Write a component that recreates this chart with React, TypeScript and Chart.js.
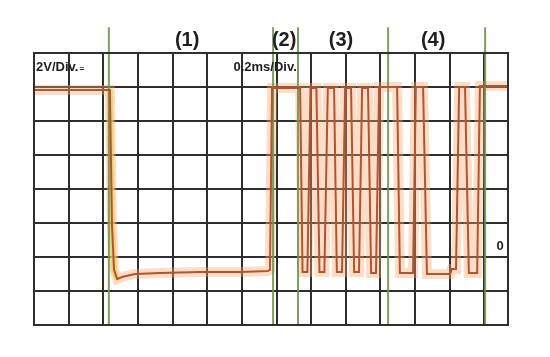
import React, { useEffect, useRef } from "react";
import { Chart, registerables } from "chart.js";

Chart.register(...registerables);

// Time axis in divisions (0.2 ms/div), level axis in divisions (2 V/div)
const traceTime = [
  0, 2.19, 2.25, 2.31, 2.4, 2.54, 2.91, 3.64, 4.79, 5.95, 6.75, 6.81,
  6.87, 7.68, 7.75, 7.89, 7.98, 8.15, 8.24, 8.38, 8.48, 8.66, 8.74, 8.89,
  8.98, 9.15, 9.24, 9.38, 9.47, 9.64, 9.73, 9.87, 9.96, 10.48, 10.56, 10.94,
  11.02, 11.23, 11.34, 12.01, 12.06, 12.18, 12.27, 12.44, 12.55, 12.79, 12.87, 13.68,
];
const traceLevel = [
  6.91, 6.91, 2.94, 1.62, 1.35, 1.41, 1.5, 1.53, 1.56, 1.56, 1.59, 1.62,
  6.97, 6.97, 1.56, 1.56, 6.97, 6.97, 1.56, 1.56, 6.97, 6.97, 1.56, 1.56,
  6.97, 6.97, 1.56, 1.56, 6.97, 6.97, 1.53, 1.53, 7.0, 7.0, 1.53, 1.53,
  7.0, 7.0, 1.5, 1.5, 1.65, 1.65, 7.0, 7.0, 1.53, 1.53, 7.03, 7.03,
];
const markerTimes = [2.16, 6.9, 7.62, 10.22, 13.02];
const markerTop = 8.76;
const xDivTicks = [0, 1, 2, 3, 4, 5, 6, 7, 8, 9, 10, 11, 12, 13];
const yDivTicks = [0, 1, 2, 3, 4, 5, 6, 7, 8];
const xMax = 13.68;
const yMax = 8;

const sectionLabels = ["(1)", "(2)", "(3)", "(4)"];
const sectionTimes = [4.42, 7.22, 8.86, 11.52];
const sectionLevel = 8.38;
const voltText = "2V/Div.";
const timeText = "0.2ms/Div.";
const zeroText = "0";

const tracePts = traceTime.map((t, i) => ({ x: t, y: traceLevel[i] }));
const firstEdge = tracePts.slice(1, 5);

const overlay = {
  id: "scopeOverlay",
  afterDraw(chart: any) {
    const { ctx, chartArea, scales } = chart;
    const xs = scales.x;
    const ys = scales.y;
    ctx.save();
    ctx.strokeStyle = "#2e2e2e";
    ctx.lineWidth = 2;
    ctx.strokeRect(chartArea.left, chartArea.top, chartArea.right - chartArea.left, chartArea.bottom - chartArea.top);
    ctx.fillStyle = "#1e1e1e";
    ctx.textBaseline = "middle";
    ctx.textAlign = "center";
    ctx.font = 'bold 20px "Liberation Sans", Arial, sans-serif';
    sectionLabels.forEach((s, i) => {
      ctx.fillText(s, xs.getPixelForValue(sectionTimes[i]), ys.getPixelForValue(sectionLevel));
    });
    ctx.textAlign = "left";
    ctx.font = 'bold 13px "Liberation Sans Narrow", "Liberation Sans", Arial, sans-serif';
    const vx = xs.getPixelForValue(0.06);
    const vy = ys.getPixelForValue(7.59);
    ctx.fillText(voltText, vx, vy);
    const w = ctx.measureText(voltText).width;
    ctx.font = 'bold 8px "Liberation Sans", Arial, sans-serif';
    ctx.fillText("=", vx + w + 1, vy + 2);
    ctx.font = 'bold 13px "Liberation Sans", Arial, sans-serif';
    ctx.textAlign = "center";
    ctx.fillText(timeText, xs.getPixelForValue(6.67), ys.getPixelForValue(7.59));
    ctx.fillText(zeroText, xs.getPixelForValue(13.45), ys.getPixelForValue(2.32));
    ctx.restore();
  },
};

export default function App() {
  const ref = useRef<HTMLCanvasElement | null>(null);
  useEffect(() => {
    if (!ref.current) return;
    const gridOpts = { color: "#2e2e2e", lineWidth: 2, drawTicks: false };
    const chart = new Chart(ref.current, {
      type: "line",
      data: {
        datasets: [
          ...markerTimes.map((t) => ({
            data: [{ x: t, y: 0 }, { x: t, y: markerTop }],
            borderColor: "rgba(110,150,80,0.9)",
            borderWidth: 2,
            pointRadius: 0,
            clip: false as any,
            order: 2,
          })),
          {
            data: tracePts,
            borderColor: "rgba(247,165,110,0.38)",
            borderWidth: 10,
            pointRadius: 0,
            order: 4,
          },
          {
            data: firstEdge,
            borderColor: "rgba(228,210,90,0.7)",
            borderWidth: 6,
            pointRadius: 0,
            order: 3,
          },
          {
            data: tracePts,
            borderColor: "#b5532f",
            borderWidth: 2,
            pointRadius: 0,
            order: 1,
          },
        ],
      },
      options: {
        animation: false,
        responsive: false,
        events: [],
        layout: { padding: { left: 34, top: 53, right: 42, bottom: 32 } },
        plugins: { legend: { display: false }, tooltip: { enabled: false } },
        scales: {
          x: {
            type: "linear",
            min: 0,
            max: xMax,
            afterBuildTicks: (s: any) => { s.ticks = xDivTicks.map((v) => ({ value: v })); },
            ticks: { display: false },
            grid: gridOpts,
            border: { display: true, color: "#2e2e2e", width: 2 },
          },
          y: {
            type: "linear",
            min: 0,
            max: yMax,
            afterBuildTicks: (s: any) => { s.ticks = yDivTicks.map((v) => ({ value: v })); },
            ticks: { display: false },
            grid: gridOpts,
            border: { display: true, color: "#2e2e2e", width: 2 },
          },
        },
      },
      plugins: [overlay],
    });
    return () => chart.destroy();
  }, []);
  return (
    <div style={{ position: "absolute", left: 0, top: 0, width: 550, height: 357, background: "#fff" }}>
      <canvas ref={ref} width={550} height={357} />
    </div>
  );
}
